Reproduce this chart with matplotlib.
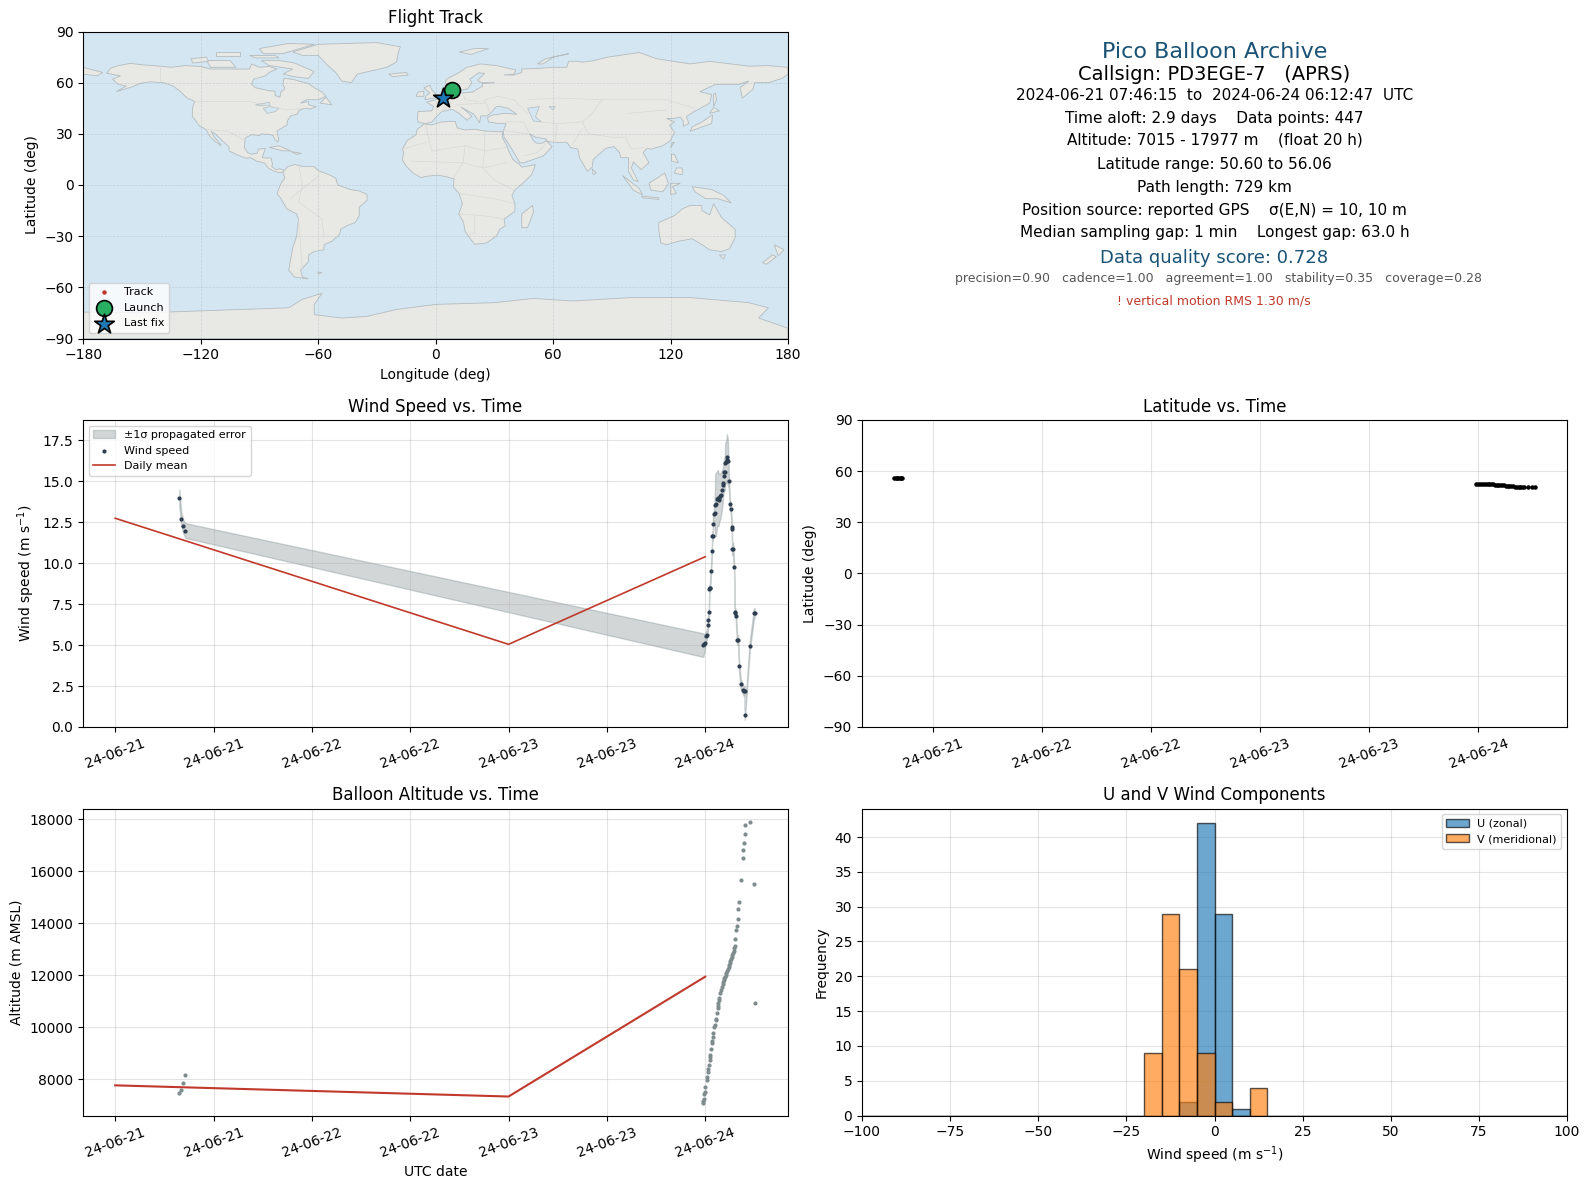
from datetime import datetime, timedelta

import matplotlib
matplotlib.use("Agg")
import matplotlib.dates as mdates
import matplotlib.pyplot as plt
import numpy as np
from matplotlib.patches import Polygon

START = datetime(2024, 6, 21)

# hours since 2024-06-21 00:00 UTC
wind_hours = [7.83, 8.07, 8.31, 8.56, 71.76, 71.84, 71.92, 72.12, 72.20, 72.32, 72.33, 72.45, 72.49, 72.53, 72.57,
              72.69, 72.81, 72.85, 72.93, 72.94, 73.09, 73.17, 73.22, 73.30, 73.46, 73.54, 73.62, 73.70, 73.82,
              73.90, 74.03, 74.15, 74.16, 74.31, 74.35, 74.39, 74.43, 74.55, 74.63, 74.64, 74.75, 74.88, 75.00,
              75.12, 75.24, 75.25, 75.28, 75.40, 75.52, 75.60, 75.69, 75.73, 75.89, 76.01, 76.13, 76.33, 76.62,
              76.70, 76.82, 76.83, 77.43, 77.95, 78.03]
wind_speed = [14.0, 12.7, 12.25, 12.0, 5.00, 5.08, 5.12, 5.57, 5.61, 6.22, 6.52, 7.01, 8.41, 8.47, 8.51,
              9.50, 10.72, 11.65, 11.69, 12.42, 13.03, 13.07, 13.54, 13.60, 13.94, 14.00, 13.88, 14.00, 14.09,
              14.17, 14.49, 14.75, 14.90, 15.55, 15.30, 15.57, 16.13, 16.17, 16.28, 16.48, 16.24, 15.04, 13.64,
              13.33, 12.22, 12.12, 10.90, 10.86, 9.75, 7.01, 6.95, 6.80, 5.32, 5.30, 3.72, 2.63, 2.28,
              2.20, 2.20, 0.74, 4.94, 6.95, 6.95]
wind_sigma = [0.5, 0.4, 0.4, 0.45, 0.72, 0.6, 0.55, 0.3, 0.3, 0.25, 0.25, 0.25, 0.25, 0.25, 0.25,
              0.3, 0.3, 0.3, 0.3, 0.35, 0.4, 1.0, 1.9, 1.9, 1.7, 1.7, 1.6, 1.5, 1.4,
              1.3, 1.2, 1.0, 0.9, 0.9, 0.9, 0.9, 1.2, 1.3, 1.4, 1.4, 1.4, 0.5, 0.3,
              0.3, 0.3, 0.3, 0.4, 0.4, 0.3, 0.3, 0.3, 0.3, 0.3, 0.3, 0.3, 0.3, 0.3,
              0.3, 0.3, 0.3, 0.3, 0.3, 0.3]

daily_hours = [0, 48, 72]
daily_wind = [12.75, 5.05, 10.4]
daily_alt = [7770, 7340, 11950]

alt_hours = [7.83, 8.07, 8.31, 8.56, 71.74, 71.76, 71.80, 71.84, 71.92, 72.00, 72.16, 72.24, 72.32, 72.33, 72.41,
             72.53, 72.57, 72.61, 72.69, 72.81, 72.85, 72.93, 72.94, 73.09, 73.17, 73.26, 73.34, 73.46, 73.54,
             73.55, 73.58, 73.66, 73.74, 73.82, 73.94, 74.03, 74.11, 74.19, 74.27, 74.35, 74.43, 74.51, 74.59,
             74.67, 74.75, 74.84, 74.92, 75.00, 75.08, 75.16, 75.24, 75.32, 75.40, 75.48, 75.56, 75.60, 75.65,
             75.73, 75.85, 75.97, 75.98, 76.09, 76.33, 76.58, 76.59, 76.70, 76.82, 76.83, 77.43, 77.91, 78.03]
altitude = [7480, 7600, 7850, 8180, 7080, 7150, 7436, 7257, 7500, 7692, 7974, 8090, 8295, 8385, 8564,
            8744, 8846, 8923, 9154, 9385, 9487, 9615, 9769, 10000, 10090, 10282, 10321, 10538, 10731,
            10821, 10923, 11051, 11128, 11333, 11436, 11538, 11667, 11744, 11821, 11885, 11949, 12026, 12103,
            12154, 12231, 12308, 12385, 12462, 12538, 12615, 12692, 12769, 12846, 12949, 13051, 13128, 13385,
            13731, 13885, 14154, 14538, 14808, 15654, 16500, 16808, 17077, 17423, 17769, 17885, 15500, 10923]

lat_hours = [7.78, 7.95, 8.1, 8.25, 8.4, 8.55, 8.7, 71.76, 72.0, 72.2, 72.4, 72.6, 72.8, 73.0, 73.2, 73.4, 73.6, 73.8,
             74.0, 74.2, 74.4, 74.6, 74.8, 75.0, 75.2, 75.4, 75.6, 75.8, 76.0, 76.2, 76.4, 76.6, 76.8, 77.0, 77.4, 77.9,
             78.2]
latitude = [56.06, 56.05, 56.03, 56.02, 56.0, 56.0, 55.98, 52.72, 52.7, 52.68, 52.62, 52.6, 52.5, 52.45, 52.35, 52.3,
            52.2, 52.1, 52.0, 51.9, 51.85, 51.75, 51.65, 51.55, 51.45, 51.35, 51.2, 51.1, 51.0, 50.95, 50.9, 50.85,
            50.8, 50.75, 50.7, 50.65, 50.6]

hist_edges = list(range(-100, 105, 5))
hist_centers = [-17.5, -12.5, -7.5, -2.5, 2.5, 7.5, 12.5]
u_counts = [0, 0, 2, 42, 29, 1, 0]
v_counts = [9, 29, 21, 9, 2, 0, 4]

launch_pos = (8.5, 55.6)
last_pos = (4.0, 51.0)

# text, size, colour, x centre, y centre (px)
info_lines = [
    ("Pico Balloon Archive", 16, "#1a5276", 1214.5, 52),
    ("Callsign: PD3EGE-7   (APRS)", 14, "black", 1214.5, 74),
    ("2024-06-21 07:46:15  to  2024-06-24 06:12:47  UTC", 11, "black", 1214.5, 95),
    ("Time aloft: 2.9 days    Data points: 447", 11, "black", 1214.5, 118.5),
    ("Altitude: 7015 - 17977 m    (float 20 h)", 11, "black", 1214.5, 140),
    ("Latitude range: 50.60 to 56.06", 11, "black", 1214.5, 164),
    ("Path length: 729 km", 11, "black", 1214.5, 187.5),
    ("Position source: reported GPS    σ(E,N) = 10, 10 m", 11, "black", 1214.5, 210),
    ("Median sampling gap: 1 min    Longest gap: 63.0 h", 11, "black", 1214.5, 233),
    ("Data quality score: 0.728", 13, "#1a5276", 1214.5, 258),
    ("precision=0.90   cadence=1.00   agreement=1.00   stability=0.35   coverage=0.28", 9, "#555555", 1218.5, 279),
    ("! vertical motion RMS 1.30 m/s", 9, "#c0392b", 1213.5, 301),
]

# rough coastlines, lon/lat
north_america = [(-168, 65.5), (-166, 68.5), (-162, 70), (-156, 71.3), (-150, 70.5), (-141, 69.7), (-135, 69),
                 (-128, 70), (-120, 69.5), (-115, 68), (-108, 68), (-100, 68), (-95, 68), (-94, 71), (-90, 69),
                 (-85, 69.5), (-81, 68), (-85, 66), (-87, 64), (-93, 62), (-94, 59), (-92, 57), (-85, 55.3), (-82, 55),
                 (-82, 52.5), (-79.5, 51.5), (-79, 54.5), (-77, 56.5), (-78, 59), (-77.5, 62.5), (-73, 62), (-70, 61),
                 (-65, 59.5), (-62, 57), (-58, 54.5), (-56, 52), (-60, 50), (-66, 50), (-69, 48), (-65, 49), (-65, 47),
                 (-61, 46), (-64, 44.5), (-67, 45), (-70, 43.5), (-70.5, 41.7), (-74, 40.5), (-75.5, 38), (-76, 35),
                 (-78, 33.8), (-81, 31.5), (-80.2, 27), (-80.5, 25.2), (-82, 26.5), (-83, 29), (-85, 29.7), (-89, 30),
                 (-90, 29), (-94, 29.5), (-97.3, 27.5), (-97.7, 22), (-96, 19), (-94, 18), (-91, 18.8), (-90.5, 21),
                 (-87, 21.5), (-88, 18), (-88.5, 16), (-84, 15.8), (-83.3, 12), (-83.7, 10.8), (-81.5, 9), (-79.5, 9.5),
                 (-77.3, 8.6), (-78, 7.5), (-80, 7.3), (-81.5, 7.8), (-83, 8.3), (-85.5, 10), (-87.5, 13), (-91.5, 14),
                 (-94.5, 16), (-97, 15.8), (-101, 17.5), (-105.5, 20), (-105.5, 22.5), (-109, 26), (-112.5, 30),
                 (-114.7, 31.5), (-113, 28), (-110, 24), (-109.5, 23), (-112, 25), (-115, 28), (-117.2, 32.5),
                 (-120.5, 34.5), (-122.5, 37.5), (-124.3, 40.5), (-124, 46), (-123, 49), (-127, 51), (-130, 54.5),
                 (-134, 58), (-139, 60), (-146, 60.5), (-151, 59.5), (-154, 58), (-158, 56.5), (-163, 54.8), (-158, 58),
                 (-162, 59), (-165, 62), (-161, 64)]
south_america = [(-77.3, 8.6), (-75.5, 10.8), (-72, 12), (-68, 11), (-62, 10.7), (-60, 8.5), (-54, 5.8), (-51, 4),
                 (-50, 0), (-44, -2.5), (-39, -3.5), (-35, -5.5), (-35, -9), (-39, -13), (-39, -18), (-41, -22),
                 (-45, -23.7), (-48.5, -26), (-49, -29), (-53, -33), (-57, -35), (-57, -38), (-62, -39), (-65, -41),
                 (-65, -45), (-69, -50), (-68, -54), (-65, -55), (-72, -54), (-75, -50), (-74, -43), (-73, -37),
                 (-71, -30), (-70, -20), (-71, -17), (-76, -14), (-79, -8), (-81, -5), (-80, -2), (-79, 1), (-77, 4),
                 (-78, 7.5)]
africa = [(-5.9, 35.8), (-2, 35.2), (3, 37), (10, 37.3), (11, 33.5), (15, 32.3), (20, 32.7), (25, 31.7), (32, 31.2),
          (34.3, 31.3), (34, 28), (36, 24), (37.3, 20), (39.5, 15), (43, 11.8), (44, 10.5), (51, 11.9), (49, 6),
          (45, 1.5), (40.5, -3), (39, -6), (40.5, -11), (40.5, -15.5), (35, -20), (35.5, -24), (32.8, -26), (31, -30),
          (26, -34), (20, -34.8), (18, -32), (15, -27), (14.3, -22), (11.8, -17), (13.7, -11), (12, -5), (9, -1),
          (9.5, 3.5), (5, 5), (1, 5.8), (-4, 5.2), (-7.5, 4.4), (-11.5, 7), (-15, 11), (-17, 14.7), (-16.3, 19),
          (-17, 21), (-14.5, 26), (-10, 29.5), (-9.5, 32.5)]
eurasia = [(-9, 37), (-9.3, 39), (-9, 43), (-2, 43.5), (-1, 46), (-4.5, 48.5), (1.5, 50.5), (4, 52), (8, 54), (8.5, 57),
           (10.8, 57.5), (10, 54.5), (14, 54), (19, 54.5), (21, 56), (24, 58), (24, 59.5), (30, 60), (23, 60),
           (21.5, 61.5), (25, 65.5), (22, 65.8), (17.5, 62), (18.5, 60), (16.5, 56.5), (13, 55.5), (11, 59), (7, 58),
           (5, 60), (5.5, 62), (12, 66), (16, 69), (23, 71), (31, 70), (41, 67.5), (40, 65), (35, 64.5), (40, 64.5),
           (44, 66), (44, 68), (54, 68.5), (60, 69), (67, 69), (68, 72.5), (73, 72.5), (75, 72), (81, 73), (88, 75),
           (104, 77.7), (113, 74), (130, 71), (140, 72.5), (160, 69.7), (170, 70), (180, 69), (180, 65), (177, 62.5),
           (170, 60), (163, 60), (162, 56), (156.7, 51), (155.5, 57), (160, 61), (155, 59), (143, 59), (135, 54.7),
           (141, 53), (140, 48), (132, 43), (128, 40), (129.5, 36), (126.5, 34.5), (126.5, 37.5), (125, 39.7),
           (121.5, 39), (118, 39), (122, 37), (119.5, 35), (122, 31), (120, 26), (116, 23), (110, 21), (108, 21.5),
           (106, 19), (109, 13), (105, 9), (101, 13.5), (100, 10), (103.5, 2), (101, 3), (98.5, 8), (98.5, 16),
           (94.5, 16), (94, 19), (91, 22.5), (87, 21.5), (80.5, 15), (80, 10.5), (77.5, 8), (73.5, 16), (72.7, 21),
           (69, 22), (67, 25), (61.5, 25), (57, 25.5), (56.5, 27), (51, 28), (48, 30), (50, 26), (51.5, 24.5),
           (54.5, 24.5), (56.5, 26), (59.5, 22.5), (55, 17), (45, 13), (43, 13), (39, 21), (35, 28), (34.5, 31.3),
           (36, 36), (32, 36), (27, 37), (26.5, 39.5), (29, 41), (35, 42), (41.5, 41.5), (37, 45), (33, 46), (31, 46),
           (28, 42), (26, 40.5), (23, 40.5), (22.5, 36.5), (19.5, 41.5), (13, 45.7), (16, 43), (18.5, 40.2), (16, 38),
           (12, 42), (8.5, 44.3), (3, 43), (0, 39.5), (-2, 36.8), (-5.5, 36)]
australia = [(114, -22), (122, -18), (126, -14), (130, -12), (136, -12), (136, -15), (140, -17.5), (142, -11),
             (146, -19), (153, -26), (153, -31), (150, -37.5), (146, -39), (140, -38), (136, -35), (131, -31.5),
             (124, -33), (118, -35), (115, -34), (114, -26)]
antarctica = [(-180, -74.5), (-150, -75), (-125, -74), (-100, -73), (-75, -72), (-68, -67), (-58, -63.5), (-62, -70),
              (-62, -76), (-48, -78), (-35, -77), (-20, -73), (0, -70), (30, -69), (50, -66.5), (70, -68), (100, -66),
              (130, -66), (160, -69), (170, -72), (165, -78), (180, -84), (180, -90), (-180, -90)]
islands = [
    [(-73, 78), (-68, 76), (-60, 76), (-55, 70), (-51, 66), (-48, 61), (-43, 60), (-40, 65), (-25, 69), (-20, 72),
     (-19, 78), (-18, 81), (-30, 83.5), (-60, 82.5)],
    [(-80, 73), (-72, 71.5), (-62, 66.5), (-65, 62.5), (-72, 63.5), (-78, 65), (-73, 68), (-85, 70), (-89, 73)],
    [(-117, 73), (-105, 73), (-102, 69), (-115, 69)],
    [(-90, 80), (-75, 83), (-62, 82.5), (-78, 77), (-88, 77)],
    [(-125, 74), (-117, 75), (-116, 72.5), (-124, 71.5)],
    [(-95, 76), (-82, 76), (-80, 74.5), (-92, 74.5)],
    [(-112, 78), (-100, 78), (-100, 75.5), (-112, 75.5)],
    [(-59, 48), (-56, 51.5), (-53, 47)],
    [(-5.5, 50), (1.5, 51.5), (-2, 56), (-3, 58.5), (-6, 57), (-3, 54), (-5, 52)],
    [(-10, 52), (-6, 52), (-6, 55), (-9, 54.5)],
    [(-24, 65), (-15, 66), (-14, 64.5), (-22, 63.5)],
    [(12, 78), (20, 80), (27, 80), (18, 76.5)],
    [(52, 71), (56, 74), (68, 77), (60, 75), (55, 71)],
    [(130, 31.5), (136, 34), (141, 36), (141.5, 41), (140, 40), (136, 37), (131, 34)],
    [(140, 42), (145, 43.5), (142, 45.5)],
    [(142, 46), (143.5, 50), (143, 54), (142, 53)],
    [(120.5, 18), (122, 18), (124, 13), (120.5, 14)],
    [(122, 7), (126, 6), (126, 10), (123, 10)],
    [(109, 1), (117, 7), (119, 1), (116, -4), (110, -3)],
    [(95.5, 5.5), (104, -2), (105.7, -5.8), (101, -3)],
    [(105, -6.5), (114, -7.5), (114, -8.5), (106, -7.5)],
    [(120, 1), (125, 1), (121, -1), (123, -5), (120, -5.5)],
    [(131, -1), (141, -2.6), (147, -6), (151, -10.5), (144, -8), (138, -8), (132.5, -4)],
    [(145, -41), (148, -41), (147, -43.5)],
    [(173, -35), (178, -38), (175, -41.5)],
    [(172, -41), (174, -42), (169, -46.5), (167, -45.5)],
    [(49.5, -12), (50, -16), (47, -25), (44, -25), (44, -17)],
    [(80, 9.5), (82, 7), (80.5, 6)],
    [(-85, 22), (-80, 23), (-74, 20), (-78, 20)],
    [(-74, 19.7), (-68.5, 18.5), (-71, 18)],
    [(120, 22), (122, 25), (121, 25)],
    [(-60, -51), (-58, -51.5), (-60, -52)],
    [(-180, 65), (-173, 64), (-170, 66), (-180, 69)],
]
lakes = [
    [(47, 45), (53, 46), (51, 40), (54, 37), (50, 37.5), (49, 40)],
    [(-92, 47), (-85, 48.5), (-84.5, 46.5), (-90, 46.5)],
    [(-88, 45), (-85, 46), (-80, 45), (-82, 43), (-86, 42)],
    [(58, 46), (61, 46), (60, 44)],
]
borders = [
    [(-141, 69.7), (-141, 60.5)], [(-123, 49), (-95, 49), (-84, 46), (-76, 44), (-67, 45)],
    [(-117, 32.5), (-106, 31.5), (-97.3, 26)], [(-70, 12), (-68, 0), (-70, -10), (-58, -20), (-57, -30)],
    [(-70, -20), (-68, -50)], [(-60, 5), (-70, -4), (-74, -8)], [(-5, 35), (-2, 20), (15, 23), (25, 20), (36, 22)],
    [(-17, 21), (-5, 25)], [(25, 31), (25, 20), (24, 10), (30, 3), (40, -3)], [(15, 23), (14, 13), (9, 4)],
    [(-12, 14), (14, 13), (24, 10), (36, 13)], [(12, -5), (30, -8), (40, -11)], [(12, -17), (25, -18), (35, -20)],
    [(20, -18), (20, -28), (17, -29)], [(28, 42), (25, 50), (32, 52), (40, 50), (47, 42)],
    [(10, 47), (25, 48)], [(3, 43), (8, 48), (6, 51)], [(14, 54), (15, 50), (22, 49)],
    [(47, 50), (62, 51), (85, 50), (98, 50), (118, 50), (132, 45)], [(85, 50), (80, 42), (75, 37), (62, 36), (54, 37)],
    [(98, 42), (118, 44)], [(75, 37), (78, 30), (90, 28), (97, 28), (100, 21), (106, 22)], [(62, 36), (61, 25)],
    [(70, 24), (75, 33)], [(35, 32), (47, 30)], [(36, 37), (45, 37), (48, 30)], [(45, 17), (52, 19), (56, 24)],
]

fig = plt.figure(figsize=(15.9, 11.89), dpi=100)


def axes_px(left, top, right, bottom):
    return fig.add_axes([left / 1590, 1 - bottom / 1189, (right - left) / 1590, (bottom - top) / 1189])


def to_dates(hours):
    return [START + timedelta(hours=h) for h in hours]


def time_axis(ax, first, last):
    ax.set_xlim(mdates.date2num(START + timedelta(hours=first)), mdates.date2num(START + timedelta(hours=last)))
    ax.xaxis.set_major_locator(mdates.HourLocator(byhour=[0, 12]))
    ax.xaxis.set_major_formatter(mdates.DateFormatter("%y-%m-%d"))
    ax.tick_params(axis="x", labelrotation=20)
    ax.grid(True, alpha=0.35)


# flight track
ax_map = axes_px(83.2, 31.5, 788, 338.5)
ax_map.set_facecolor("#d4e6f1")
for poly in [north_america, south_america, africa, eurasia, australia, antarctica] + islands:
    ax_map.add_patch(Polygon(poly, closed=True, facecolor="#e8e8e4", edgecolor="#b4bcc0", linewidth=0.6, zorder=1))
for poly in lakes:
    ax_map.add_patch(Polygon(poly, closed=True, facecolor="#d4e6f1", edgecolor="#b4bcc0", linewidth=0.5, zorder=1.2))
for line in borders:
    xs, ys = zip(*line)
    ax_map.plot(xs, ys, color="#d8d8d4", linewidth=0.5, zorder=1.2)
ax_map.grid(True, linestyle="--", linewidth=0.5, color="#9aa5ab", alpha=0.35)
ax_map.set_axisbelow("line")
ax_map.scatter([launch_pos[0], last_pos[0]], [launch_pos[1], last_pos[1]], s=5, color="#c0392b", label="Track", zorder=3)
ax_map.scatter(*launch_pos, s=130, color="#27ae60", edgecolor="black", linewidth=1.2, label="Launch", zorder=4)
ax_map.scatter(*last_pos, s=220, marker="*", color="#1f77b4", edgecolor="black", linewidth=1.2, label="Last fix", zorder=5)
ax_map.set_xlim(-180, 180)
ax_map.set_ylim(-90, 90)
ax_map.set_xticks(range(-180, 181, 60))
ax_map.set_yticks(range(-90, 91, 30))
ax_map.set_xlabel("Longitude (deg)")
ax_map.set_ylabel("Latitude (deg)")
ax_map.set_title("Flight Track")
ax_map.legend(loc="lower left", fontsize=8)

# header text
for text, size, color, x, y in info_lines:
    fig.text(x / 1590, 1 - y / 1189, text, fontsize=size, color=color, ha="center", va="center")

# wind speed
ax_wind = axes_px(83.2, 420, 788, 727)
t_wind = to_dates(wind_hours)
speed = np.array(wind_speed)
sigma = np.array(wind_sigma)
ax_wind.fill_between(t_wind, speed - sigma, speed + sigma, color="#7f8c8d", alpha=0.35, label="±1σ propagated error")
ax_wind.scatter(t_wind, speed, s=4, color="#2c3e50", label="Wind speed", zorder=3)
ax_wind.plot(to_dates(daily_hours), daily_wind, color="#c0392b", linewidth=1.2, label="Daily mean")
time_axis(ax_wind, -3.9, 82.1)
ax_wind.set_ylim(0, 18.75)
ax_wind.set_ylabel("Wind speed (m s$^{-1}$)")
ax_wind.set_title("Wind Speed vs. Time")
ax_wind.legend(loc="upper left", fontsize=8)

# latitude
ax_lat = axes_px(862, 420, 1567, 727)
ax_lat.scatter(to_dates(lat_hours), latitude, s=5, color="black", zorder=3)
time_axis(ax_lat, 4.25, 81.73)
ax_lat.set_ylim(-90, 90)
ax_lat.set_yticks(range(-90, 91, 30))
ax_lat.set_ylabel("Latitude (deg)")
ax_lat.set_title("Latitude vs. Time")

# altitude
ax_alt = axes_px(83.2, 808.5, 788, 1115.5)
ax_alt.scatter(to_dates(alt_hours), altitude, s=4, color="#7f8c8d", zorder=3)
ax_alt.plot(to_dates(daily_hours), daily_alt, color="#c0392b", linewidth=1.5)
time_axis(ax_alt, -3.9, 82.1)
ax_alt.set_ylim(6610, 18420)
ax_alt.set_xlabel("UTC date")
ax_alt.set_ylabel("Altitude (m AMSL)")
ax_alt.set_title("Balloon Altitude vs. Time")

# wind components
ax_hist = axes_px(862, 808.5, 1567, 1115.5)
ax_hist.hist(hist_centers, bins=hist_edges, weights=u_counts, color="#1f77b4", alpha=0.65, edgecolor="black",
             label="U (zonal)")
ax_hist.hist(hist_centers, bins=hist_edges, weights=v_counts, color="#ff7f0e", alpha=0.65, edgecolor="black",
             label="V (meridional)")
ax_hist.set_xlim(-100, 100)
ax_hist.grid(True, alpha=0.35)
ax_hist.set_axisbelow(True)
ax_hist.set_xlabel("Wind speed (m s$^{-1}$)")
ax_hist.set_ylabel("Frequency")
ax_hist.set_title("U and V Wind Components")
ax_hist.legend(loc="upper right", fontsize=8)

fig.savefig("out.png", dpi=100)
